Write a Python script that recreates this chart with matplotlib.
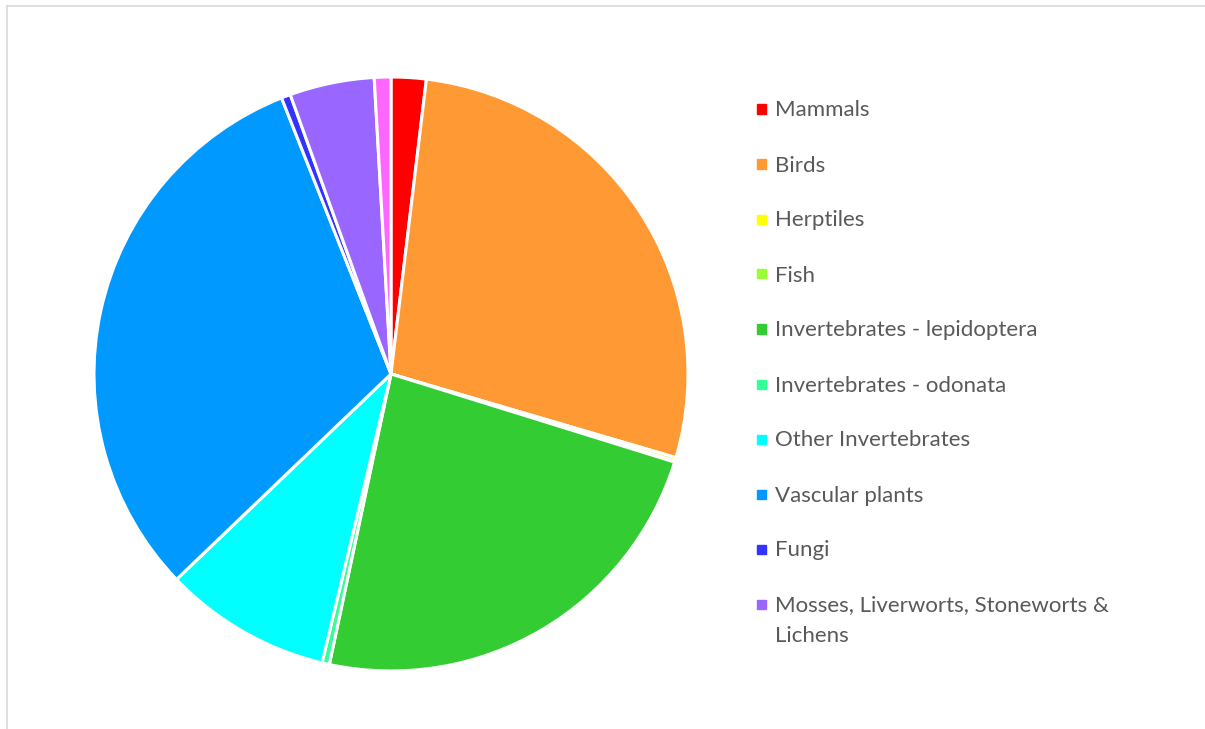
import matplotlib.pyplot as plt
from matplotlib.lines import Line2D
from matplotlib.patches import Rectangle

# species share by group (percent)
groups = ['Mammals', 'Birds', 'Herptiles', 'Fish', 'Invertebrates - lepidoptera',
          'Invertebrates - odonata', 'Other Invertebrates', 'Vascular plants', 'Fungi',
          'Mosses, Liverworts, Stoneworts &\nLichens', 'Other']
shares = [1.9, 27.6, 0.2, 0.05, 23.5, 0.4, 9.1, 31.1, 0.5, 4.6, 0.9]
colors = ['#FF0000', '#FF9933', '#FFFF00', '#99FF33', '#33CC33', '#33FF99',
          '#00FFFF', '#0099FF', '#3333FF', '#9966FF', '#FF66FF']
n_legend = 10  # legend in the original is cut off before the last group

W, H = 1205, 729
fig = plt.figure(figsize=(W / 100, H / 100), dpi=100)
plt.rcParams['font.family'] = ['Lato', 'DejaVu Sans']

# pie area in pixels
cx, cy, r = 391, 374, 297
ax = fig.add_axes([(cx - r) / W, (H - cy - r) / H, 2 * r / W, 2 * r / H])
ax.pie(shares, colors=colors, startangle=90, counterclock=False, radius=1,
       wedgeprops=dict(edgecolor='white', linewidth=2.2))
ax.set_xlim(-1, 1)
ax.set_ylim(-1, 1)
ax.set_aspect('equal')
ax.axis('off')

# legend drawn by hand: one row every 55 px, wrapped lines 30 px apart
for i in range(n_legend):
    base = 116.5 + 55 * i
    fig.add_artist(Rectangle((757 / W, (H - base + 3) / H), 9 / W, 9 / H,
                             color=colors[i], transform=fig.transFigure))
    for k, line in enumerate(groups[i].split('\n')):
        fig.text(775 / W, (H - base - 30 * k) / H, line, fontsize=16,
                 color='#595959', va='baseline', ha='left')

# chart frame (only top and left edges visible)
fig.add_artist(Line2D([6.5 / W, 6.5 / W], [0, (H - 5.5) / H], color='#D9D9D9', lw=1.2))
fig.add_artist(Line2D([6.5 / W, 1], [(H - 5.5) / H, (H - 5.5) / H], color='#D9D9D9', lw=1.2))

fig.savefig('out.png', dpi=100, facecolor='white')
